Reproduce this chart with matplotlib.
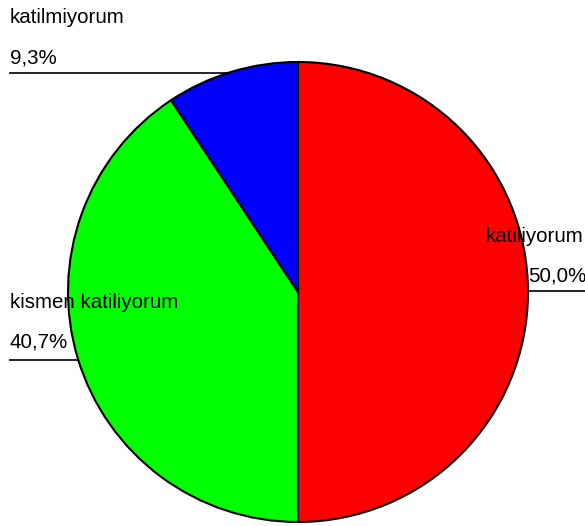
import matplotlib.pyplot as plt
import numpy as np

labels = ['katiliyorum', 'kismen katiliyorum', 'katilmiyorum']
values = [50.0, 40.7, 9.3]
pct_labels = ['50,0%', '40,7%', '9,3%']
colors = ['#ff0000', '#00ff00', '#0000ff']

W, H = 585, 526
cx, cy, r = 298, H - 292, 230

plt.rcParams['font.family'] = ['Liberation Sans', 'DejaVu Sans']

fig = plt.figure(figsize=(W / 100, H / 100), dpi=100)
ax = fig.add_axes([0, 0, 1, 1])

ax.pie(values, colors=colors, startangle=90, counterclock=False,
       center=(cx, cy), radius=r, frame=True,
       wedgeprops=dict(edgecolor='black', linewidth=1.5))
ax.set_xlim(0, W)
ax.set_ylim(0, H)
ax.set_aspect('equal')
ax.axis('off')


def edge_x(y, side):
    dx = np.sqrt(max(r ** 2 - (y - cy) ** 2, 0))
    return cx + side * dx


fs = 14.8
# katiliyorum (right)
ly = H - 291
ax.plot([edge_x(ly, 1), W], [ly, ly], color='black', lw=1.2, zorder=1)
ax.text(486, H - 242, labels[0], fontsize=fs, va='baseline', ha='left', zorder=5)
ax.text(528, H - 282, pct_labels[0], fontsize=fs, va='baseline', ha='left', zorder=5)

# kismen katiliyorum (left)
ly = H - 360
ax.plot([10, edge_x(ly, -1)], [ly, ly], color='black', lw=1.2, zorder=1)
ax.text(10, H - 308, labels[1], fontsize=fs, va='baseline', ha='left', zorder=5)
ax.text(10, H - 348, pct_labels[1], fontsize=fs, va='baseline', ha='left', zorder=5)

# katilmiyorum (top left)
ly = H - 73
ax.plot([10, edge_x(ly, -1)], [ly, ly], color='black', lw=1.2, zorder=1)
ax.text(10, H - 23, labels[2], fontsize=fs, va='baseline', ha='left', zorder=5)
ax.text(10, H - 63, pct_labels[2], fontsize=fs, va='baseline', ha='left', zorder=5)

fig.savefig('out.png', dpi=100)
